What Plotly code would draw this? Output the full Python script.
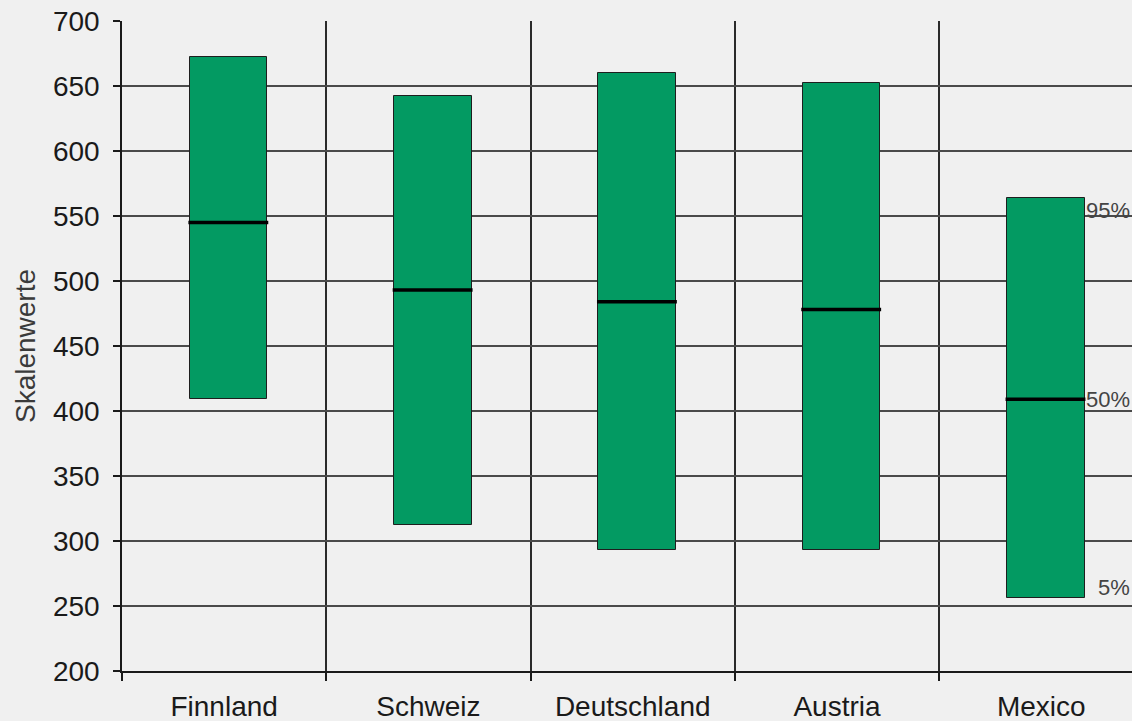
import plotly.graph_objects as go

countries = ["Finnland", "Schweiz", "Deutschland", "Austria", "Mexico"]
p5 = [409, 312, 293, 293, 256]
p50 = [545, 493, 484, 478, 409]
p95 = [672, 642, 660, 652, 564]
pct_labels = ["95%", "50%", "5%"]

BAR_W = 0.38
BAR_OFF = -0.168
GREEN = "#039a62"
FONT = "Liberation Sans, Arial, sans-serif"

xs = list(range(len(countries)))

fig = go.Figure()
fig.add_trace(go.Bar(
    x=xs, y=[t - b for t, b in zip(p95, p5)], base=p5,
    width=BAR_W, offset=BAR_OFF,
    marker=dict(color=GREEN, line=dict(color="#1e1e1e", width=1)),
    showlegend=False, hoverinfo="skip",
))
for i, m in enumerate(p50):
    fig.add_trace(go.Scatter(
        x=[i + BAR_OFF - 0.007, i + BAR_OFF + BAR_W + 0.004], y=[m, m],
        mode="lines", line=dict(color="black", width=3.5),
        showlegend=False, hoverinfo="skip",
    ))

last = len(countries) - 1
label_y = [p95[last] - 10, p50[last], p5[last] + 8]
for txt, yv in zip(pct_labels, label_y):
    fig.add_annotation(
        xref="paper", x=1.0, y=yv, text=txt, showarrow=False,
        xanchor="right", yanchor="middle",
        font=dict(family=FONT, size=22, color="#444444"),
    )

fig.update_layout(
    width=1132, height=721,
    margin=dict(l=122, r=0, t=21, b=50),
    paper_bgcolor="#f0f0f0", plot_bgcolor="#f0f0f0",
    font=dict(family=FONT, size=28, color="#1a1a1a"),
    bargap=0,
)
fig.update_xaxes(
    range=[-0.5, 4.444],
    tickmode="array", tickvals=xs, ticktext=countries,
    ticks="", showgrid=False, zeroline=False, ticklabelstandoff=10,
    showline=True, linecolor="#1a1a1a", linewidth=1.5,
    tickfont=dict(size=28, color="#1a1a1a"),
    minor=dict(tickmode="array", tickvals=[i - 0.5 for i in range(len(countries) + 1)],
               ticks="outside", ticklen=8, tickcolor="#1a1a1a", tickwidth=1.5,
               showgrid=True, gridcolor="#2a2a2a", gridwidth=1.5),
)
fig.update_yaxes(
    range=[200, 700], tickmode="linear", tick0=200, dtick=50,
    ticks="outside", ticklen=7, tickcolor="#1a1a1a", tickwidth=1.5,
    showline=True, linecolor="#1a1a1a", linewidth=1.5, ticklabelstandoff=8,
    showgrid=True, gridcolor="#4a4a4a", gridwidth=1.5, zeroline=False,
    tickfont=dict(size=28, color="#1a1a1a"),
    title=dict(text="Skalenwerte", font=dict(size=28, color="#3a3a3a"), standoff=9),
)

fig.write_html(
    "out.html",
    config={"displayModeBar": False},
    post_script="document.body.style.margin='0';document.documentElement.style.overflow='hidden';",
)
